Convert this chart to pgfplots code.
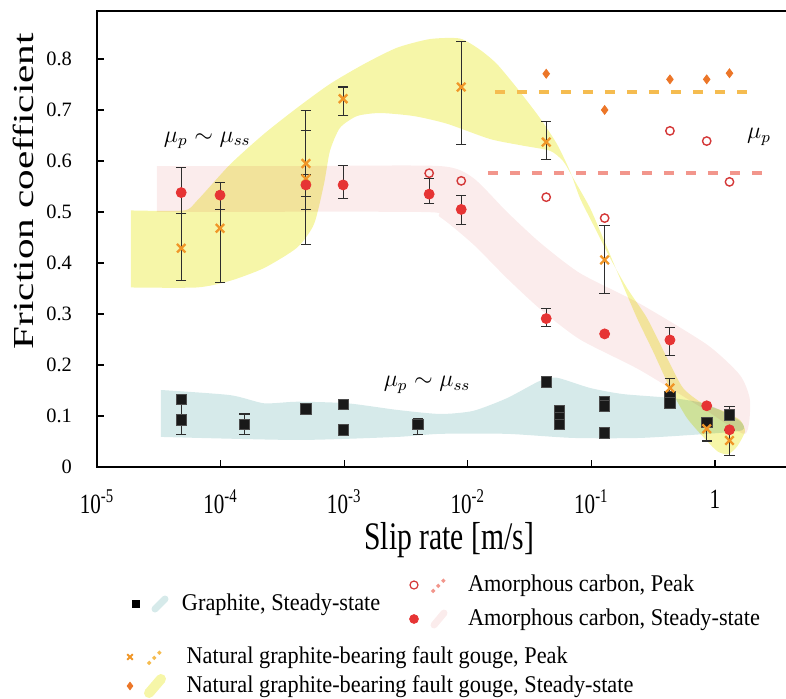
\documentclass[border=0pt]{standalone}
\usepackage{fontspec}
\setmainfont{Liberation Serif}
\newfontfamily\legendfamily[FakeStretch=0.93]{Liberation Serif}
\newfontfamily\narrowfamily[FakeStretch=0.76]{Liberation Serif}
\newfontfamily\widefamily[FakeStretch=1.42]{Liberation Serif}
\usepackage{pgfplots}
\usepackage{pgfplotstable}
\pgfplotsset{compat=1.18}

\definecolor{bandyellow}{RGB}{246,246,168}
\definecolor{bandpink}{RGB}{251,236,236}
\definecolor{bandteal}{RGB}{214,234,234}
\definecolor{ssred}{RGB}{230,52,52}
\definecolor{peakred}{RGB}{212,56,56}
\definecolor{gougeorange}{RGB}{240,150,40}
\definecolor{diamondorange}{RGB}{236,118,40}
\definecolor{dashorange}{RGB}{245,188,80}
\definecolor{dashpink}{RGB}{242,150,140}
\definecolor{barblack}{RGB}{45,45,45}

\newcommand{\legfont}{\legendfamily\fontsize{12}{14}\selectfont}

% ---------- shaded ranges ----------
\pgfplotstableread{
x y
1.884e-5 0.503
5.057e-5 0.503
6.445e-5 0.522
1.192e-4 0.593
2.244e-4 0.653
4.151e-4 0.704
7.675e-4 0.751
1.446e-3 0.790
2.674e-3 0.822
4.945e-3 0.839
8.648e-3 0.840
1.255e-2 0.818
1.722e-2 0.790
2.500e-2 0.743
3.837e-2 0.684
5.268e-2 0.633
6.713e-2 0.580
8.086e-2 0.527
0.1030 0.476
0.1414 0.410
0.1941 0.351
0.2818 0.292
0.4090 0.214
0.5509 0.155
0.7996 0.124
1.161 0.110
1.594 0.092
1.749 0.070
1.507 0.040
1.274 0.025
1.058 0.030
0.8615 0.051
0.5936 0.096
0.4324 0.155
0.3151 0.227
0.2338 0.292
0.1703 0.370
0.1242 0.449
9.743e-2 0.508
7.098e-2 0.567
5.892e-2 0.600
4.624e-2 0.620
2.796e-2 0.630
1.512e-2 0.643
6.786e-3 0.673
3.670e-3 0.688
1.948e-3 0.694
1.269e-3 0.688
9.247e-4 0.665
7.675e-4 0.620
6.864e-4 0.555
5.696e-4 0.476
4.151e-4 0.430
2.244e-4 0.390
1.192e-4 0.365
6.445e-5 0.352
1.884e-5 0.352
}\gougeband

\pgfplotstableread{
x y
3.057e-5 0.590
4.390e-4 0.590
5.958e-3 0.590
1.102e-2 0.567
2.076e-2 0.500
3.837e-2 0.440
8.086e-2 0.380
0.2473 0.320
0.8615 0.240
1.594 0.180
1.920 0.130
1.749 0.065
0.8615 0.110
0.2473 0.190
8.086e-2 0.250
3.837e-2 0.310
2.076e-2 0.370
1.102e-2 0.437
5.958e-3 0.490
4.105e-3 0.500
3.057e-5 0.500
}\carbonband

\pgfplotstableread{
x y
3.294e-5 0.151
1.192e-4 0.141
2.244e-4 0.125
4.151e-4 0.128
1.054e-3 0.125
2.674e-3 0.112
5.958e-3 0.104
1.102e-2 0.110
2.076e-2 0.135
3.837e-2 0.169
5.268e-2 0.175
9.743e-2 0.155
0.1802 0.143
0.4572 0.135
0.8615 0.123
1.594 0.090
1.654 0.072
0.8615 0.065
0.2473 0.057
7.098e-2 0.057
2.076e-2 0.065
5.958e-3 0.065
2.674e-3 0.059
4.151e-4 0.053
3.294e-5 0.059
}\graphiteband

% ---------- measurements ----------
\pgfplotstableread{
x y
4.8e-5 0.133
4.8e-5 0.092
1.56e-4 0.084
4.9e-4 0.114
9.8e-4 0.123
9.8e-4 0.073
3.94e-3 0.084
0.0431 0.167
0.0550 0.110
0.0550 0.097
0.0550 0.084
0.128 0.129
0.128 0.120
0.128 0.067
0.432 0.139
0.432 0.126
0.857 0.087
1.31 0.102
}\graphitess

\pgfplotstableread{
x y
4.8e-5 0.538
9.9e-5 0.533
4.9e-4 0.553
9.8e-4 0.553
4.87e-3 0.535
8.85e-3 0.505
0.0431 0.291
0.128 0.261
0.432 0.249
0.857 0.120
1.31 0.073
}\carbonss

\pgfplotstableread{
x y
4.87e-3 0.576
8.85e-3 0.561
0.0431 0.529
0.128 0.488
0.432 0.659
0.857 0.639
1.31 0.559
}\carbonpeak

\pgfplotstableread{
x y
4.8e-5 0.429
9.9e-5 0.468
4.9e-4 0.595
4.9e-4 0.565
9.8e-4 0.722
8.85e-3 0.745
0.0431 0.637
0.128 0.406
0.432 0.155
0.857 0.075
1.31 0.052
}\gougepeak

\pgfplotstableread{
x y
0.0431 0.771
0.128 0.700
0.432 0.760
0.857 0.760
1.31 0.772
}\gougess

% error bars: x, y, upper and lower extent
\pgfplotstableread{
x y ep em
4.8e-5 0.092 0.041 0.028
1.56e-4 0.084 0.020 0.020
3.94e-3 0.084 0.011 0.020
0.0431 0.167 0.008 0.000
0.857 0.087 0.000 0.036
1.31 0.102 0.016 0.000
4.8e-5 0.538 0.050 0.041
9.9e-5 0.533 0.024 0.029
4.9e-4 0.553 0.020 0.022
9.8e-4 0.553 0.038 0.027
4.87e-3 0.535 0.030 0.019
8.85e-3 0.505 0.028 0.029
0.0431 0.291 0.020 0.016
0.432 0.249 0.024 0.031
4.8e-5 0.429 0.068 0.064
9.9e-5 0.468 0.089 0.106
4.9e-4 0.595 0.104 0.158
4.9e-4 0.565 0.095 0.060
9.8e-4 0.722 0.023 0.032
8.85e-3 0.745 0.089 0.112
0.0431 0.637 0.040 0.035
0.128 0.406 0.068 0.066
0.432 0.155 0.019 0.015
1.31 0.052 0.020 0.030
}\errbars

% one legend row: position of its west end, symbol code, text
\newcommand{\legendrow}[3]{%
  \begin{axis}[hide axis, scale only axis, width=2pt, height=2pt,
    xmin=0, xmax=1, ymin=0, ymax=1,
    at={(#1)}, anchor=center,
    legend style={at={(0.5,0.5)}, anchor=west, draw=none, fill=none,
      inner sep=0pt, outer sep=0pt, column sep=0pt, font=\legfont,
      nodes={inner sep=0pt, outer sep=0pt}}]
    \addlegendimage{legend image code/.code={#2}}
    \addlegendentry{#3}
  \end{axis}}

\begin{document}
\begin{tikzpicture}
\begin{axis}[
  at={(0pt,0pt)}, anchor=south west,
  scale only axis, width=346pt, height=228pt,
  xmode=log, xmin=1e-5, xmax=3.97, ymin=0, ymax=0.894,
  axis line style={line width=0.8pt, black},
  xtick={1e-5,1e-4,1e-3,1e-2,1e-1,1},
  xticklabels={10\textsuperscript{-5},10\textsuperscript{-4},10\textsuperscript{-3},10\textsuperscript{-2},10\textsuperscript{-1},1},
  ytick={0,0.1,0.2,0.3,0.4,0.5,0.6,0.7,0.8},
  yticklabels={0,0.1,0.2,0.3,0.4,0.5,0.6,0.7,0.8},
  xminorticks=false, yminorticks=false,
  tick pos=left, tick align=inside, major tick length=3.5pt,
  tick style={line width=0.6pt, black},
  xticklabel style={font=\narrowfamily\fontsize{13.9}{16}\selectfont, yshift=-8pt},
  yticklabel style={font=\fontsize{10.2}{12}\selectfont, xshift=-9pt},
  xlabel={Slip rate [m/s]},
  xlabel style={font=\narrowfamily\fontsize{19.5}{22}\selectfont, at={(axis description cs:0.509,-0.161)}, anchor=center},
  ylabel={Friction coefficient},
  ylabel style={font=\widefamily\fontsize{14.5}{17}\selectfont, at={(axis description cs:-0.107,0.605)}, anchor=center},
]
% shaded ranges
\addplot[fill=bandteal, draw=none, blend mode=multiply, smooth, tension=0.4] table {\graphiteband} -- cycle;
\addplot[fill=bandpink, draw=none, blend mode=multiply, smooth, tension=0.4] table {\carbonband} -- cycle;
\addplot[fill=bandyellow, draw=none, blend mode=multiply, smooth, tension=0.4] table {\gougeband} -- cycle;

% peak levels
\addplot[dashorange, line width=2pt, dash pattern=on 5pt off 6pt] coordinates {(0.0166,0.736) (1.92,0.736)};
\addplot[dashpink, line width=2pt, dash pattern=on 5pt off 6pt] coordinates {(0.01457,0.576) (2.634,0.576)};

% error bars
\addplot[draw=none, mark=none, forget plot,
  error bars/.cd, y dir=both, y explicit,
  error bar style={draw=barblack, line width=0.55pt},
  error mark options={rotate=90, mark size=2.6pt, draw=barblack, line width=0.55pt}]
  table[x=x, y=y, y error plus=ep, y error minus=em] {\errbars};

% points
\addplot[only marks, mark=square*, mark size=2.6pt, mark options={fill=black!90, draw=black!70}] table {\graphitess};
\addplot[only marks, mark=x, mark size=3pt, mark options={draw=gougeorange, line width=1.15pt}] table {\gougepeak};
\addplot[only marks, mark=*, mark size=2.5pt, mark options={fill=ssred, draw=ssred}] table {\carbonss};
\addplot[only marks, mark=o, mark size=2.1pt, mark options={draw=peakred, line width=0.7pt, fill=white}] table {\carbonpeak};
\addplot[only marks, mark=diamond*, mark size=2.2pt, mark options={fill=diamondorange, draw=diamondorange}] table {\gougess};

% annotations
\node[font=\fontsize{11.5}{13}\selectfont] at (axis cs:7.8e-5,0.640) {$\mu_p \sim \mu_{ss}$};
\node[font=\fontsize{11.5}{13}\selectfont] at (axis cs:4.68e-3,0.161) {$\mu_p \sim \mu_{ss}$};
\node[font=\fontsize{11.5}{13}\selectfont] at (axis cs:2.27,0.647) {$\mu_p$};
\end{axis}

% legend
\legendrow{16.5pt,-68.5pt}{%
  \path[draw=none, fill=none] (-3pt,-4pt) rectangle (23pt,4pt);
  \draw[line width=3.5pt, bandteal, line cap=round] (9.5pt,-2.5pt) -- (14.5pt,2.5pt);
  \draw[mark=square*, mark size=1.8pt, mark options={fill=black, draw=black}] plot coordinates {(0pt,0pt)};%
}{Graphite, Steady-state}
\legendrow{155.5pt,-59pt}{%
  \path[draw=none, fill=none] (-3pt,-4pt) rectangle (27pt,4pt);
  \draw[line width=1.6pt, dashpink, dash pattern=on 1.6pt off 2pt] (9pt,-3.5pt) -- (16pt,3.5pt);
  \draw[mark=o, mark size=2pt, mark options={draw=peakred, line width=0.6pt}] plot coordinates {(0pt,0pt)};%
}{Amorphous carbon, Peak}
\legendrow{155.5pt,-76pt}{%
  \path[draw=none, fill=none] (-3pt,-4pt) rectangle (27pt,4pt);
  \draw[line width=3.5pt, bandpink, line cap=round] (10pt,-3pt) -- (15pt,3pt);
  \draw[mark=*, mark size=2.2pt, mark options={fill=ssred, draw=ssred}] plot coordinates {(0pt,0pt)};%
}{Amorphous carbon, Steady-state}
\legendrow{13.5pt,-95pt}{%
  \path[draw=none, fill=none] (-3pt,-4pt) rectangle (28.3pt,4pt);
  \draw[line width=1.6pt, dashorange, dash pattern=on 1.6pt off 2pt] (9pt,-3.5pt) -- (16pt,3.5pt);
  \draw[mark=x, mark size=2pt, mark options={draw=gougeorange, line width=0.9pt}] plot coordinates {(0pt,0pt)};%
}{Natural graphite-bearing fault gouge, Peak}
\legendrow{13.5pt,-109.5pt}{%
  \path[draw=none, fill=none] (-3pt,-4pt) rectangle (28.3pt,4pt);
  \draw[line width=5pt, bandyellow, line cap=round] (9.5pt,-3.5pt) -- (15.5pt,3.5pt);
  \draw[mark=diamond*, mark size=1.9pt, mark options={fill=diamondorange, draw=diamondorange}] plot coordinates {(0pt,0pt)};%
}{Natural graphite-bearing fault gouge, Steady-state}

\pgfresetboundingbox
\path[use as bounding box] (-48.5pt,-115.5pt) rectangle (344.5pt,233.5pt);
\end{tikzpicture}
\end{document}
